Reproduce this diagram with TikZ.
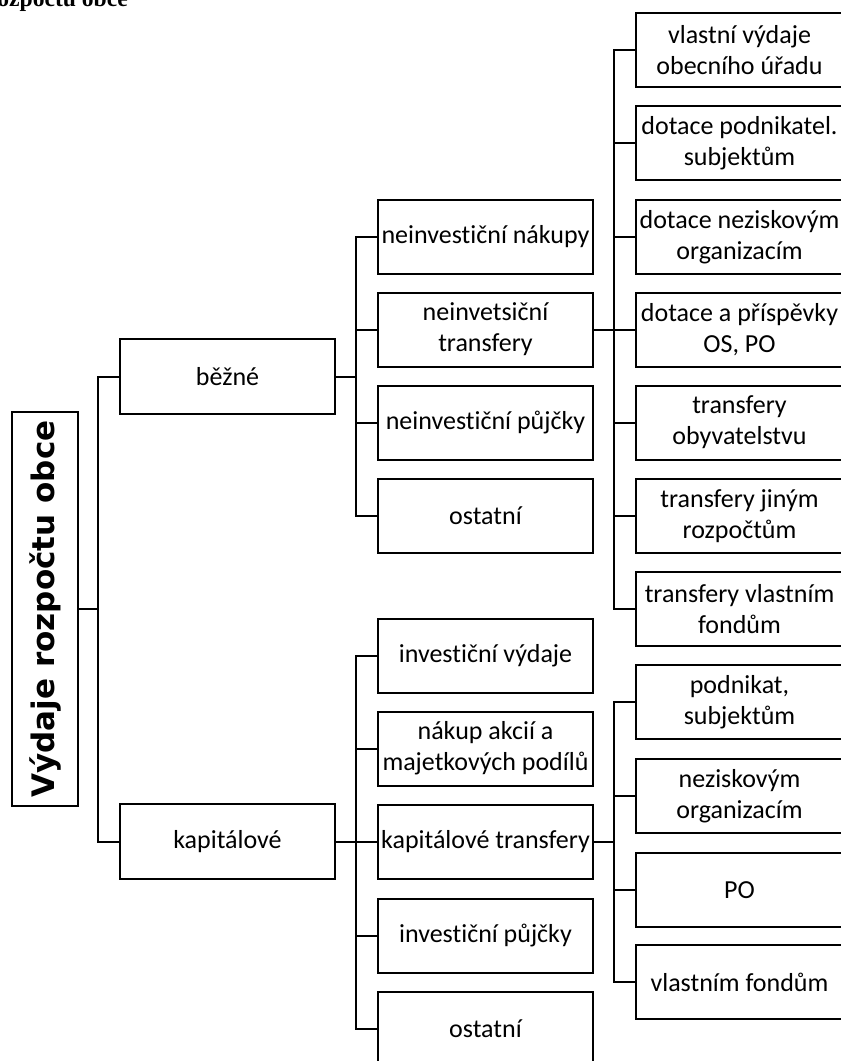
\documentclass[tikz,border=0pt]{standalone}
\usepackage{fontspec}
\newfontfamily\boxfont{Carlito}[Ligatures={NoCommon}]
\newfontfamily\titlefont{DejaVu Sans}
\newfontfamily\headfont{Liberation Serif}
\tikzset{
        box/.style={draw, line width=2pt, inner sep=0pt, align=center, minimum height=74pt,
                    font=\boxfont\fontsize{26}{31}\selectfont},
        kind/.style={box, minimum width=215pt, minimum height=75pt},
        item/.style={box, minimum width=215pt},
        leaf/.style={box, minimum width=207pt},
        link/.style={line width=2pt}
    }

\begin{document}
\begin{tikzpicture}[x=1pt, y=-1pt]
            \useasboundingbox (0,0) rectangle (841,1061);
            \clip (0,0) rectangle (841,1061);

            \node [anchor=base east, inner sep=0pt, font=\headfont\bfseries\fontsize{23.6}{28}\selectfont] (head) at (128, 6) {rozpočtu obce};

            \node [draw, line width=2pt, rotate=90, minimum width=394pt, minimum height=66pt, inner sep=0pt,
                   font=\titlefont\bfseries\fontsize{31}{37}\selectfont] (root) at (45, 609) {Výdaje rozpočtu obce};

            \node [kind] (bezne) at (227.5, 376.5) {běžné};
            \node [kind] (kapit) at (227.5, 841.5) {kapitálové};

            \node [item] (bn1) at (485.5, 237)   {neinvestiční nákupy};
            \node [item] (bn2) at (485.5, 329.5) {neinvetsiční\\transfery};
            \node [item] (bn3) at (485.5, 423)   {neinvestiční půjčky};
            \node [item] (bn4) at (485.5, 516)   {ostatní};

            \node [item] (kp1) at (485.5, 656)   {investiční výdaje};
            \node [item] (kp2) at (485.5, 748.5) {nákup akcií a\\majetkových podílů};
            \node [item] (kp3) at (485.5, 842)   {kapitálové transfery};
            \node [item] (kp4) at (485.5, 936)   {investiční půjčky};
            \node [item] (kp5) at (485.5, 1029)  {ostatní};

            \node [leaf] (bt1) at (739.5, 50)    {vlastní výdaje\\obecního úřadu};
            \node [leaf] (bt2) at (739.5, 143)   {dotace podnikatel.\\subjektům};
            \node [leaf] (bt3) at (739.5, 237)   {dotace neziskovým\\organizacím};
            \node [leaf] (bt4) at (739.5, 329.5) {dotace a příspěvky\\OS, PO};
            \node [leaf] (bt5) at (739.5, 422.5) {transfery\\obyvatelstvu};
            \node [leaf] (bt6) at (739.5, 516)   {transfery jiným\\rozpočtům};
            \node [leaf] (bt7) at (739.5, 609)   {transfery vlastním\\fondům};

            \node [leaf] (kt1) at (739.5, 702)   {podnikat,\\subjektům};
            \node [leaf] (kt2) at (739.5, 796)   {neziskovým\\organizacím};
            \node [leaf] (kt3) at (739.5, 890)   {PO};
            \node [leaf] (kt4) at (739.5, 982)   {vlastním fondům};

            % rozvetveni
            \coordinate (r0) at (98, 609);
            \coordinate (b0) at (356, 376.5);
            \coordinate (k0) at (356, 841.5);
            \coordinate (bt) at (614, 329.5);
            \coordinate (kt) at (614, 842);

            \draw [link] (root.south) -- (r0);
            \draw [link] (r0) |- (bezne.west);
            \draw [link] (r0) |- (kapit.west);

            \draw [link] (bezne.east) -- (b0);
            \draw [link] (b0) |- (bn1.west);
            \draw [link] (b0) |- (bn2.west);
            \draw [link] (b0) |- (bn3.west);
            \draw [link] (b0) |- (bn4.west);

            \draw [link] (kapit.east) -- (k0);
            \draw [link] (k0) |- (kp1.west);
            \draw [link] (k0) |- (kp2.west);
            \draw [link] (k0) |- (kp3.west);
            \draw [link] (k0) |- (kp4.west);
            \draw [link] (k0) |- (kp5.west);

            \draw [link] (bn2.east) -- (bt);
            \draw [link] (bt) |- (bt1.west);
            \draw [link] (bt) |- (bt2.west);
            \draw [link] (bt) |- (bt3.west);
            \draw [link] (bt) |- (bt4.west);
            \draw [link] (bt) |- (bt5.west);
            \draw [link] (bt) |- (bt6.west);
            \draw [link] (bt) |- (bt7.west);

            \draw [link] (kp3.east) -- (kt);
            \draw [link] (kt) |- (kt1.west);
            \draw [link] (kt) |- (kt2.west);
            \draw [link] (kt) |- (kt3.west);
            \draw [link] (kt) |- (kt4.west);
        \end{tikzpicture}
\end{document}
